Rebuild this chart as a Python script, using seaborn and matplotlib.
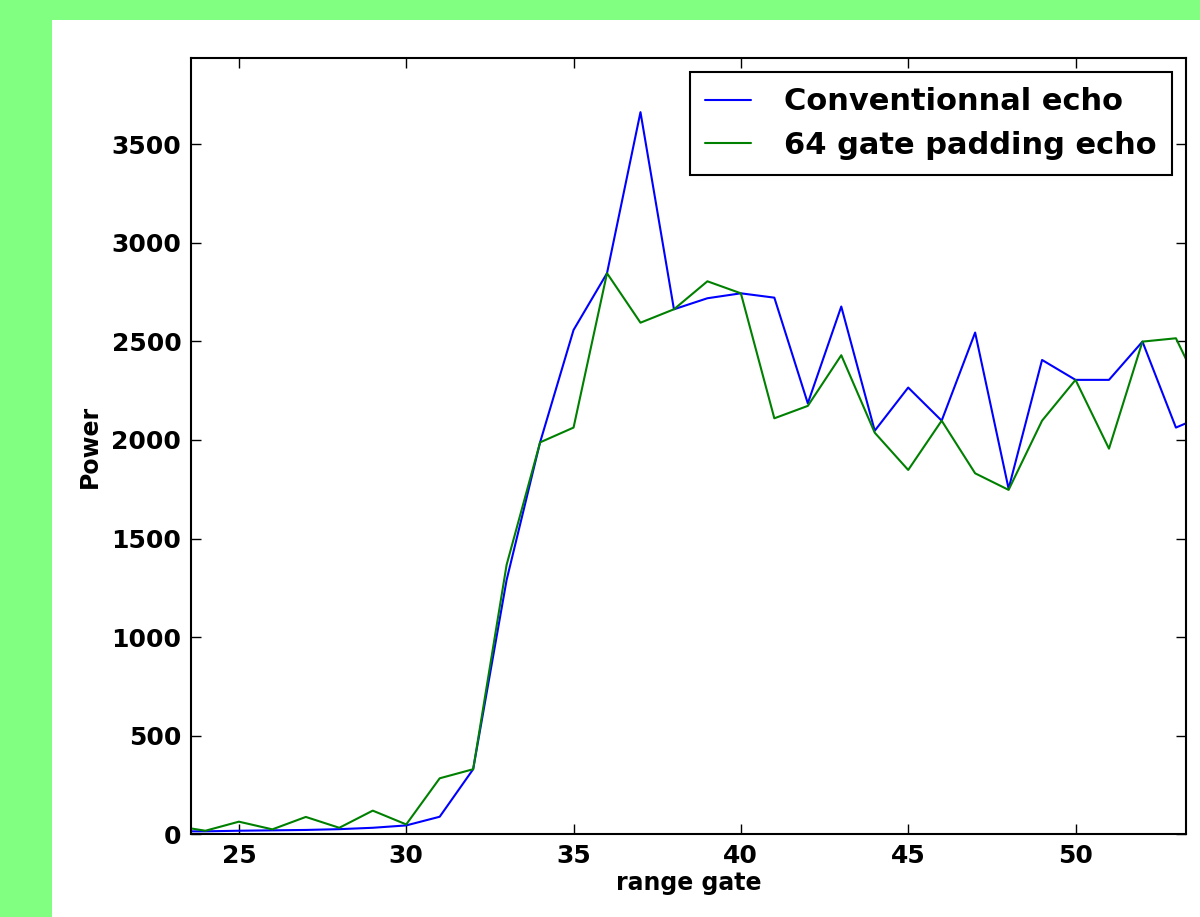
import pandas as pd
import matplotlib.pyplot as plt
import matplotlib.patches as mpatches
import seaborn as sns

sns.set_theme(style="ticks")
plt.rcParams["font.family"] = ["DejaVu Sans"]
plt.rcParams["font.weight"] = "bold"
plt.rcParams["axes.labelweight"] = "bold"
plt.rcParams["text.color"] = "black"
plt.rcParams["axes.labelcolor"] = "black"
plt.rcParams["xtick.color"] = "black"
plt.rcParams["ytick.color"] = "black"

# range gates and echo power
gates = list(range(23, 55))
conventional = [15, 15, 18, 20, 22, 26, 33, 45, 89, 330, 1290, 1988, 2558, 2846,
                3663, 2663, 2719, 2744, 2722, 2186, 2677, 2047, 2266, 2098, 2545,
                1753, 2406, 2305, 2305, 2499, 2063, 2135]
padding64 = [45, 18, 64, 25, 88, 33, 120, 50, 284, 330, 1367, 1988, 2063, 2846,
             2595, 2663, 2805, 2744, 2110, 2173, 2430, 2037, 1848, 2098, 1831,
             1747, 2098, 2305, 1956, 2499, 2516, 2166]

series_names = ["Conventionnal echo", "64 gate padding echo"]
df = pd.DataFrame({
    "gate": gates * 2,
    "power": conventional + padding64,
    "serie": [series_names[0]] * len(gates) + [series_names[1]] * len(gates),
})

fig = plt.figure(figsize=(12, 9.17), dpi=100)
fig.patch.set_facecolor("#80ff80")
fig.patches.append(mpatches.Rectangle((52 / 1200, 0), 1 - 52 / 1200, 1 - 20 / 917,
                                      transform=fig.transFigure, facecolor="white",
                                      edgecolor="none", zorder=-10))

ax = fig.add_axes([0.1592, 0.0902, 0.9883 - 0.1592, 0.9364 - 0.0902])
ax.set_facecolor("white")

sns.lineplot(data=df, x="gate", y="power", hue="serie",
             palette={series_names[0]: "#0000ff", series_names[1]: "#008000"},
             linewidth=1.5, ax=ax)

ax.set_xlim(23.57, 53.3)
ax.set_ylim(0, 3936)
ax.set_xticks([25, 30, 35, 40, 45, 50])
ax.set_yticks([0, 500, 1000, 1500, 2000, 2500, 3000, 3500])
ax.tick_params(direction="in", top=True, right=True, length=7, width=1,
               labelsize=18, pad=7, color="black", labelcolor="black")
for s in ax.spines.values():
    s.set_visible(True)
    s.set_linewidth(1.5)
    s.set_color("black")

ax.set_xlabel("range gate", fontsize=17, fontweight="bold", labelpad=2, color="black")
ax.set_ylabel("Power", fontsize=17, fontweight="bold", labelpad=7, color="black")

leg = ax.legend(loc="upper right", fontsize=22, frameon=True, fancybox=False,
                handlelength=1.5, handletextpad=1.1, labelspacing=0.48,
                borderaxespad=0.45, borderpad=0.5)
leg.get_frame().set_edgecolor("black")
leg.get_frame().set_linewidth(1.5)
leg.get_frame().set_alpha(1)
for t in leg.get_texts():
    t.set_fontweight("bold")
    t.set_color("black")

fig.savefig("out.png", dpi=100, facecolor=fig.get_facecolor())
